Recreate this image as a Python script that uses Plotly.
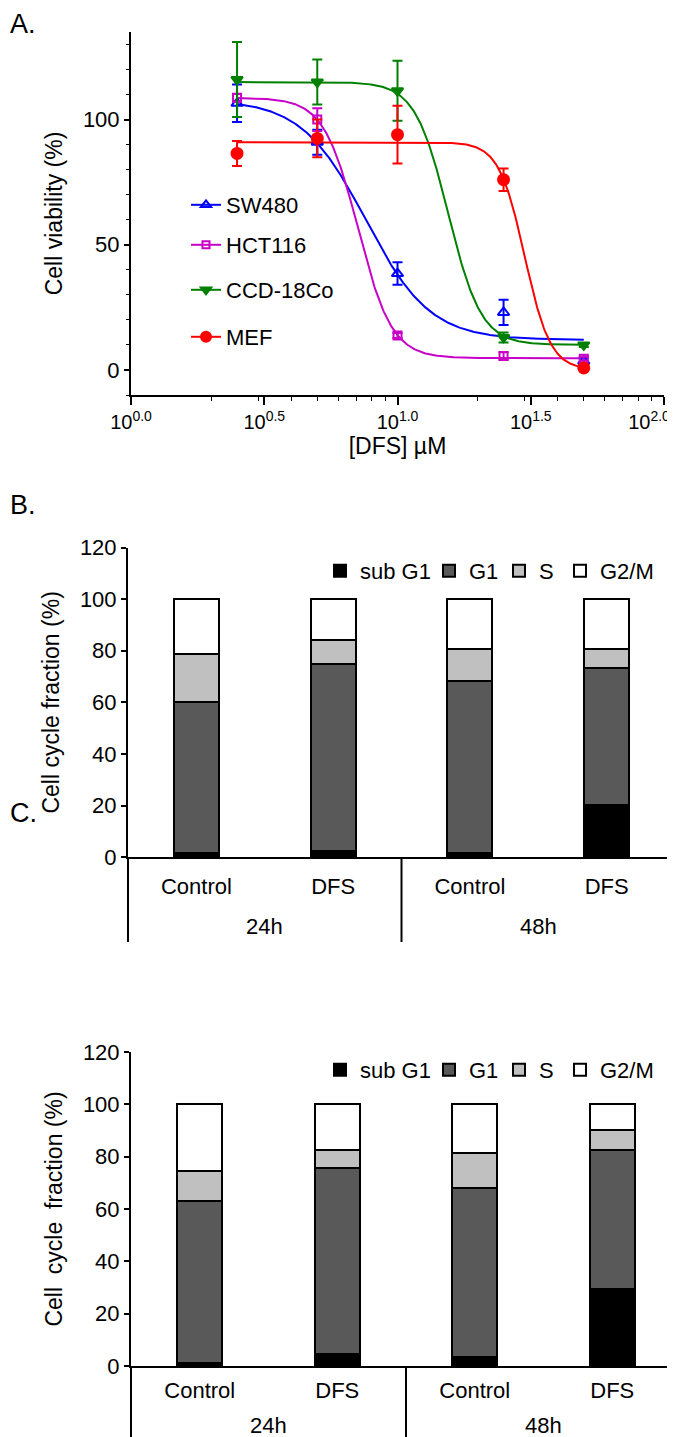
import numpy as np
import plotly.graph_objects as go

W, H = 675, 1437
FONT = "Liberation Sans, Arial, sans-serif"
FS = 22
TFS = 23

# ---------------- Panel A data ----------------
conc = [2.5, 5, 10, 25, 50]
sw480 = [106.5, 91, 38.5, 23, 3.5]
sw480_err = [7.5, 5, 4.5, 5, 1.2]
hct116 = [108.7, 100, 13.8, 5.6, 4.5]
hct116_err = [1.5, 4.5, 1, 1.5, 0.8]
ccd = [116, 115, 111.5, 13, 10]
ccd_err = [15, 9, 12, 2, 0.8]
mef = [86.5, 92.5, 94, 76, 0.8]
mef_err = [5, 7.5, 11.5, 4.5, 0.5]

series_names = ["SW480", "HCT116", "CCD-18Co", "MEF"]
# 4-parameter logistic fit values
fit_top = [108, 108.7, 115, 91]
fit_bottom = [12, 4.7, 10, 0]
fit_ec50 = [7.6, 7.1, 15.5, 30]
fit_hill = [3.6, 6.8, 7, 9]

x_tickvals = [1, 10 ** 0.5, 10, 10 ** 1.5, 100]
x_ticktext = ["10<sup>0.0</sup>", "10<sup>0.5</sup>", "10<sup>1.0</sup>",
              "10<sup>1.5</sup>", "10<sup>2.0</sup>\u2003\u2002"]

# ---------------- Panel B / C data ----------------
time_groups = ["24h", "24h", "48h", "48h"]
treatments = ["Control", "DFS", "Control", "DFS"]
phases = ["sub G1", "G1", "S", "G2/M"]
phase_colors = ["#000000", "#595959", "#c0c0c0", "#ffffff"]

b_subg1 = [1.7, 2.3, 1.7, 20.4]
b_g1 = [58.3, 72.7, 66.5, 53.0]
b_s = [18.9, 9.1, 12.3, 7.3]
b_g2m = [21.1, 15.9, 19.5, 19.3]

c_subg1 = [1.3, 4.5, 3.6, 29.6]
c_g1 = [61.9, 71.2, 64.4, 53.1]
c_s = [11.4, 6.7, 13.4, 7.6]
c_g2m = [25.4, 17.6, 18.6, 9.7]


def px_x(p):
    return p / W


def px_y(p):
    return 1 - p / H


fig = go.Figure()

# ---------------- Panel A ----------------
colors = ["#0000ff", "#c800c8", "#008000", "#ff0000"]
symbols = ["triangle-up-open", "square-open", "triangle-down", "circle"]
sizes = [10, 8, 10, 11]
values = [sw480, hct116, ccd, mef]
errors = [sw480_err, hct116_err, ccd_err, mef_err]
a_legends = ["legend", "legend2", "legend3", "legend4"]
a_legend_y = [197, 237, 282, 329]

xs = np.logspace(np.log10(conc[0]), np.log10(conc[-1]), 400)
for i in range(4):
    ys = fit_bottom[i] + (fit_top[i] - fit_bottom[i]) / (1 + (xs / fit_ec50[i]) ** fit_hill[i])
    fig.add_trace(go.Scatter(x=xs, y=ys, mode="lines",
                             line=dict(color=colors[i], width=2),
                             showlegend=False, hoverinfo="skip",
                             xaxis="x", yaxis="y"))
for i in range(4):
    fig.add_trace(go.Scatter(
        x=conc, y=values[i], mode="markers",
        marker=dict(symbol=symbols[i], color=colors[i], size=sizes[i],
                    line=dict(color=colors[i], width=2)),
        error_y=dict(type="data", array=errors[i], color=colors[i],
                     thickness=2, width=5),
        showlegend=False, xaxis="x", yaxis="y"))
for i in range(4):
    fig.add_trace(go.Scatter(
        x=[None], y=[None], mode="lines+markers", name=series_names[i],
        line=dict(color=colors[i], width=2),
        marker=dict(symbol=symbols[i], color=colors[i], size=sizes[i] - 1,
                    line=dict(color=colors[i], width=2)),
        legend=a_legends[i], xaxis="x", yaxis="y"))

# ---------------- Panel B / C ----------------
cat_keys = [g + " " + t for g, t in zip(time_groups, treatments)]
b_vals = [b_subg1, b_g1, b_s, b_g2m]
c_vals = [c_subg1, c_g1, c_s, c_g2m]
b_legends = ["legend5", "legend6", "legend7", "legend8"]
c_legends = ["legend9", "legend10", "legend11", "legend12"]
phase_legend_x = [312, 421, 491, 552]
for k in range(4):
    fig.add_trace(go.Bar(x=cat_keys, y=b_vals[k], name=phases[k], width=0.33,
                         marker=dict(color=phase_colors[k],
                                     line=dict(color="#000000", width=2)),
                         legend=b_legends[k], xaxis="x2", yaxis="y2"))
for k in range(4):
    fig.add_trace(go.Bar(x=cat_keys, y=c_vals[k], name=phases[k], width=0.33,
                         marker=dict(color=phase_colors[k],
                                     line=dict(color="#000000", width=2)),
                         legend=c_legends[k], xaxis="x3", yaxis="y3"))

# group boundaries / centres on the category axes (as domain fractions)
n_cat = len(cat_keys)
groups = []
for g in time_groups:
    if g not in groups:
        groups.append(g)
group_bounds = [0.0]
group_centres = []
for g in groups:
    idx = [i for i, t in enumerate(time_groups) if t == g]
    group_centres.append((min(idx) + max(idx) + 1) / 2 / n_cat)
    group_bounds.append((max(idx) + 1) / n_cat)

tickfont = dict(family=FONT, size=FS, color="#000000")
axis_common = dict(showline=True, linecolor="#000000", linewidth=2,
                   showgrid=False, zeroline=False,
                   tickcolor="#000000", automargin=False)
title_font = dict(family=FONT, size=TFS, color="#000000")

legend_common = dict(bgcolor="rgba(0,0,0,0)",
                     font=dict(family=FONT, size=FS, color="#000000"),
                     xanchor="left", yanchor="middle", borderwidth=0)

layout_legends = {}
for i in range(4):
    layout_legends[a_legends[i]] = dict(x=px_x(178), y=px_y(a_legend_y[i]), **legend_common)
for k in range(4):
    layout_legends[b_legends[k]] = dict(x=px_x(phase_legend_x[k]), y=px_y(563), **legend_common)
    layout_legends[c_legends[k]] = dict(x=px_x(phase_legend_x[k]), y=px_y(1062), **legend_common)

annotations = [
    dict(text="A.", x=0, y=px_y(16), xref="paper", yref="paper", xanchor="left",
         yanchor="middle", showarrow=False, font=dict(family=FONT, size=27)),
    dict(text="B.", x=0, y=px_y(497), xref="paper", yref="paper", xanchor="left",
         yanchor="middle", showarrow=False, font=dict(family=FONT, size=27)),
    dict(text="C.", x=0, y=px_y(805), xref="paper", yref="paper", xanchor="left",
         yanchor="middle", showarrow=False, font=dict(family=FONT, size=27)),
]
shapes = []
for xname, y_axis_px, y_lab_px, y_end_px in [("x2", 849.3, 918, 934), ("x3", 1358, 1417, 1437)]:
    for g, c in zip(groups, group_centres):
        annotations.append(dict(text=g, x=c, y=px_y(y_lab_px), xref=xname + " domain",
                                yref="paper", xanchor="center", yanchor="middle",
                                showarrow=False, font=dict(family=FONT, size=FS, color="#000000")))
    for b in group_bounds:
        shapes.append(dict(type="line", xref=xname + " domain", yref="paper",
                           x0=b, x1=b, y0=px_y(y_axis_px), y1=px_y(y_end_px),
                           line=dict(color="#000000", width=2)))

fig.update_layout(
    width=W, height=H,
    margin=dict(l=0, r=0, t=0, b=0, autoexpand=False),
    paper_bgcolor="#ffffff", plot_bgcolor="#ffffff",
    font=dict(family=FONT, size=FS, color="#000000"),
    barmode="stack",
    xaxis=dict(type="log", range=[0, 2], domain=[px_x(123), px_x(656)], anchor="y",
               tickmode="array", tickvals=x_tickvals, ticktext=x_ticktext,
               tickfont=dict(family=FONT, size=20, color="#000000"),
               ticks="outside", ticklen=8, tickwidth=1.5, ticklabeloverflow="allow",
               minor=dict(ticks="outside", ticklen=4, tickwidth=1.2, tickcolor="#000000",
                          tickmode="array",
                          tickvals=[2, 3, 4, 5, 6, 7, 8, 9, 20, 30, 40, 50, 60, 70, 80, 90],
                          showgrid=False),
               title=dict(text="[DFS] µM", font=title_font, standoff=3),
               **axis_common),
    yaxis=dict(range=[-10, 135], domain=[px_y(387), px_y(24)], anchor="x",
               tickmode="array", tickvals=[0, 50, 100], tickfont=tickfont,
               ticks="outside", ticklen=5, tickwidth=1.5,
               minor=dict(ticks="outside", ticklen=3, tickwidth=1.2, tickcolor="#000000",
                          dtick=10, tick0=0, showgrid=False),
               title=dict(text="Cell viability (%)", font=title_font, standoff=14),
               **axis_common),
    xaxis2=dict(type="category", domain=[px_x(120), px_x(667)], anchor="y2",
                tickmode="array", tickvals=cat_keys, ticktext=treatments, tickfont=tickfont,
                ticks="", ticklabelstandoff=8, **axis_common),
    yaxis2=dict(range=[0, 120], domain=[px_y(849.3), px_y(539.5)], anchor="x2",
                dtick=20, ticks="outside", ticklen=5, tickwidth=1.5, tickfont=tickfont,
                title=dict(text="Cell cycle fraction (%)", font=title_font, standoff=14),
                **axis_common),
    xaxis3=dict(type="category", domain=[px_x(123), px_x(673)], anchor="y3",
                tickmode="array", tickvals=cat_keys, ticktext=treatments, tickfont=tickfont,
                ticks="", ticklabelstandoff=4, **axis_common),
    yaxis3=dict(range=[0, 120], domain=[px_y(1358), px_y(1044)], anchor="x3",
                dtick=20, ticks="outside", ticklen=5, tickwidth=1.5, tickfont=tickfont,
                title=dict(text="Cell\u00a0 cycle\u00a0 fraction (%)", font=title_font, standoff=14),
                **axis_common),
    annotations=annotations,
    shapes=shapes,
    **layout_legends,
)

fig.write_html("out.html")
